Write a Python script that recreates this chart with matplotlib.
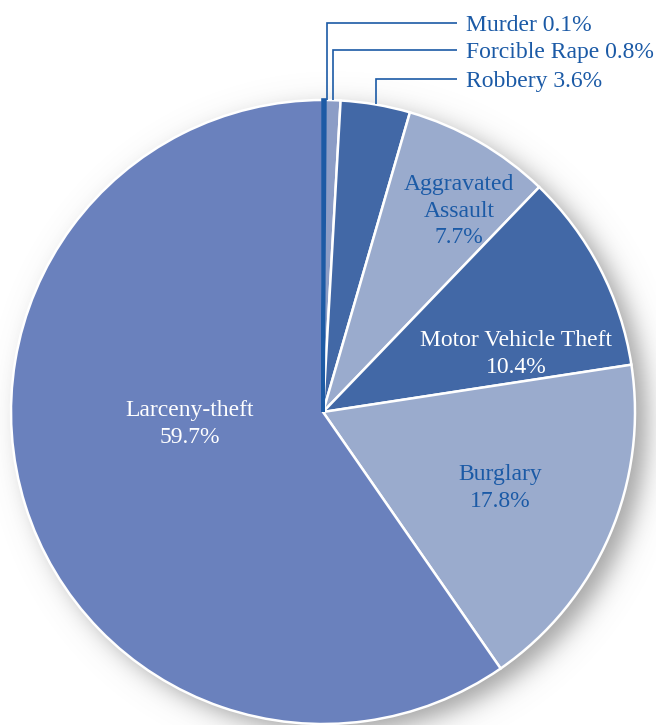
import numpy as np
import matplotlib
matplotlib.use("Agg")
import matplotlib.pyplot as plt

plt.rcParams["font.family"] = ["Liberation Serif", "DejaVu Serif"]

categories = ["Murder", "Forcible Rape", "Robbery", "Aggravated Assault",
              "Motor Vehicle Theft", "Burglary", "Larceny-theft"]
values = [0.1, 0.8, 3.6, 7.7, 10.4, 17.8, 59.7]
colors = ["#1d5aa5", "#8c9dc6", "#4268a6", "#9aabcd", "#4268a6", "#9aabcd", "#6a81bd"]

W, H = 656, 725
fig = plt.figure(figsize=(W / 100, H / 100), dpi=100)
ax = fig.add_axes([0, 0, 1, 1])
ax.set_xlim(0, W)
ax.set_ylim(0, H)
ax.set_aspect("equal")
ax.axis("off")

cx, cy, R = 323, H - 412, 312

# soft drop shadow
xx, yy = np.meshgrid(np.arange(W) + 0.5, np.arange(H) + 0.5)
d = np.hypot(xx - (cx + 12), yy - (cy - 9)) - R
alpha = 0.6 / (1 + np.exp(d / 7.5))
shadow = np.zeros((H, W, 4))
shadow[..., :3] = 0.40
shadow[..., 3] = alpha
ax.imshow(shadow, extent=(0, W, 0, H), origin="lower", zorder=0, interpolation="bilinear")

wedges, _ = ax.pie(values, colors=colors, startangle=90, counterclock=False,
                   center=(cx, cy), radius=R,
                   wedgeprops=dict(edgecolor="white", linewidth=1.8))
for w in wedges:
    w.set_zorder(2)
# tiny murder slice drawn on top so it stays visible
wedges[0].set_edgecolor(colors[0])
wedges[0].set_linewidth(2.6)
wedges[0].set_zorder(2.5)
ax.set_xlim(0, W)
ax.set_ylim(0, H)

blue = "#1b5aa6"
fs = 17

# leader lines for small slices
lead_y = [23, 50, 79]
for i, ty in enumerate(lead_y):
    w = wedges[i]
    mid = np.deg2rad((w.theta1 + w.theta2) / 2)
    px = cx + R * np.cos(mid) + (3 if i == 0 else 0)
    py = cy + R * np.sin(mid)
    ax.plot([px, px, 457], [py, H - ty, H - ty], color=blue, lw=1.2, zorder=3,
            solid_capstyle="butt", solid_joinstyle="miter")
    ax.text(466, H - ty - 2, f"{categories[i]} {values[i]}%", color=blue, fontsize=fs,
            ha="left", va="center", zorder=4)

# inside labels
inside = [
    (3, "Aggravated\nAssault\n7.7%", 459, 211, blue),
    (4, "Motor Vehicle Theft\n10.4%", 516, 354, "white"),
    (5, "Burglary\n17.8%", 500, 488, blue),
    (6, "Larceny-theft\n59.7%", 190, 424, "white"),
]
for i, txt, x, y, c in inside:
    ax.text(x, H - y, txt, color=c, fontsize=fs, ha="center",
            va="center", linespacing=1.33, zorder=4)

fig.savefig("out.png", dpi=100)
